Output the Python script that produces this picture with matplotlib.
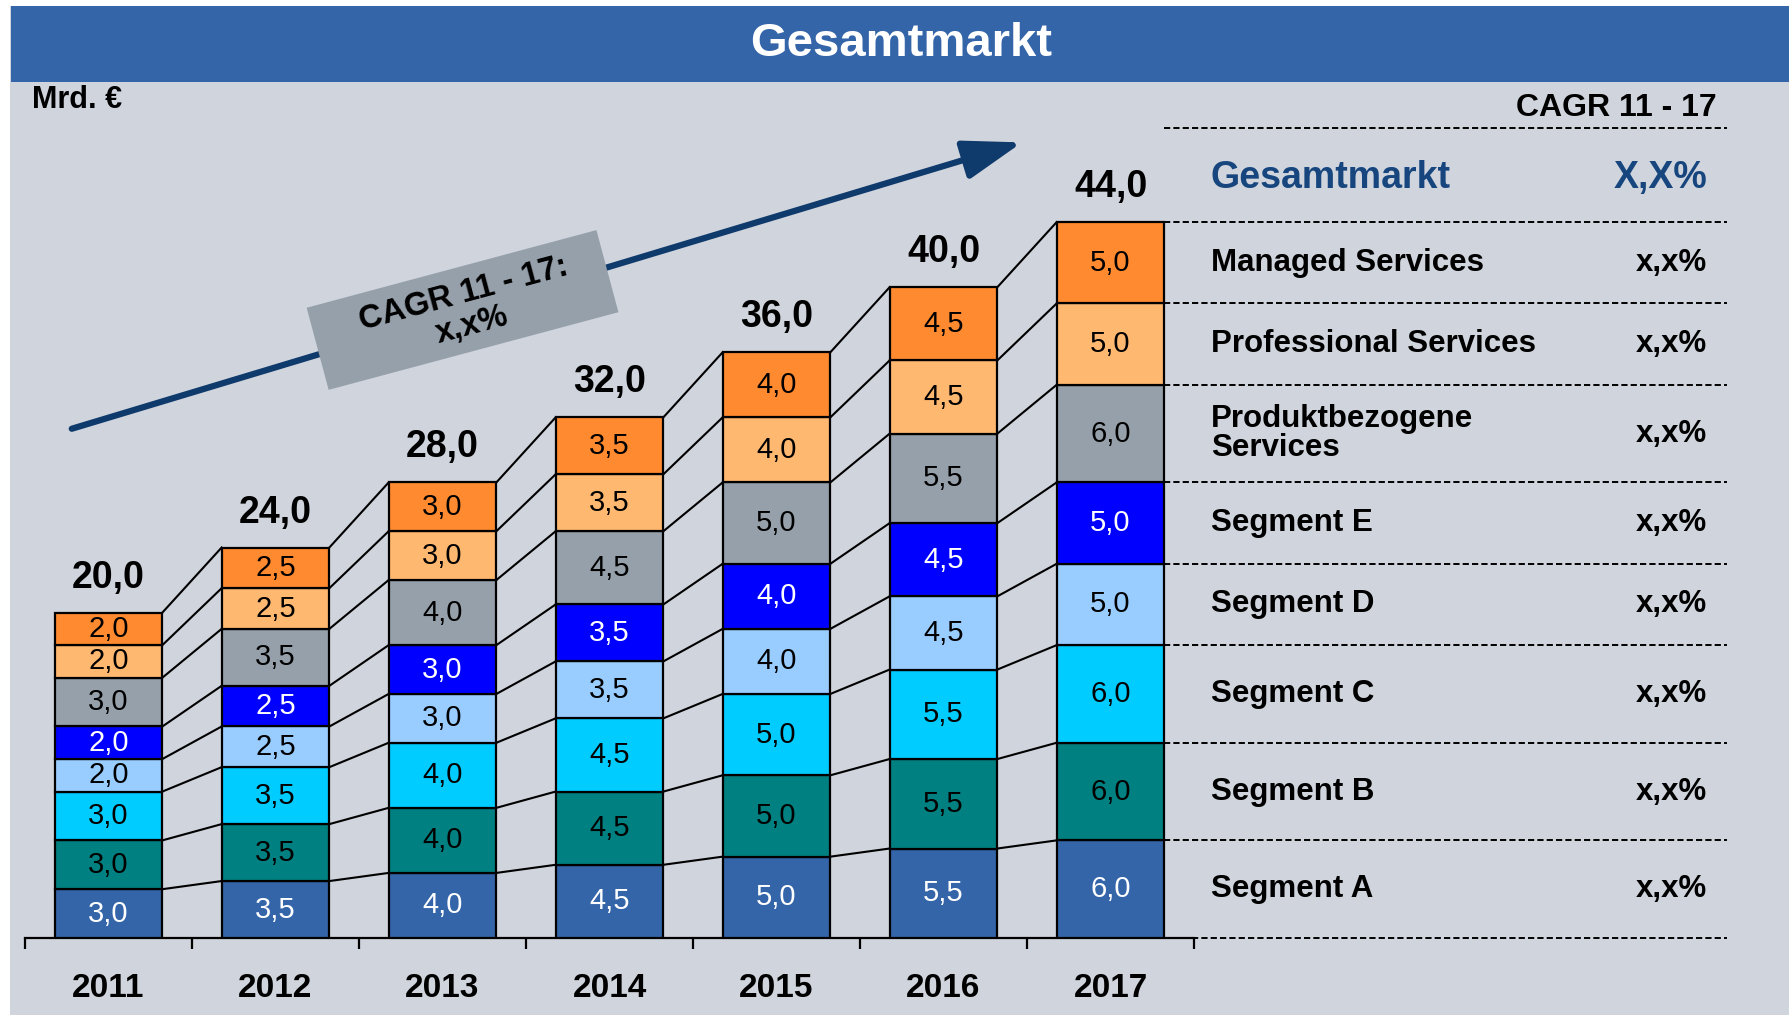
import numpy as np
import matplotlib.pyplot as plt
from matplotlib.patches import Rectangle
from matplotlib.transforms import Affine2D

plt.rcParams['font.family'] = ['Liberation Sans', 'DejaVu Sans']

# Data
# -----------------------------
years = ["2011", "2012", "2013", "2014", "2015", "2016", "2017"]
segment_names = ["Segment A", "Segment B", "Segment C", "Segment D", "Segment E",
                 "Produktbezogene\nServices", "Professional Services", "Managed Services"]
seg_a = [3.0, 3.5, 4.0, 4.5, 5.0, 5.5, 6.0]
seg_b = [3.0, 3.5, 4.0, 4.5, 5.0, 5.5, 6.0]
seg_c = [3.0, 3.5, 4.0, 4.5, 5.0, 5.5, 6.0]
seg_d = [2.0, 2.5, 3.0, 3.5, 4.0, 4.5, 5.0]
seg_e = [2.0, 2.5, 3.0, 3.5, 4.0, 4.5, 5.0]
produkt = [3.0, 3.5, 4.0, 4.5, 5.0, 5.5, 6.0]
professional = [2.0, 2.5, 3.0, 3.5, 4.0, 4.5, 5.0]
managed = [2.0, 2.5, 3.0, 3.5, 4.0, 4.5, 5.0]
cagr_segments = ["x,x%", "x,x%", "x,x%", "x,x%", "x,x%", "x,x%", "x,x%", "x,x%"]
cagr_total = "X,X%"

colors = ["#3465A9", "#008080", "#00CCFF", "#99CCFF", "#0000FF",
          "#96A0AA", "#FFB870", "#FF8A2F"]
text_colors = ["white", "black", "black", "black", "white", "black", "black", "black"]

bg = "#D0D4DC"
band = "#3465A9"
navy = "#0E3A6C"
panel_blue = "#17467F"


def fmt(v):
    return f"{v:.1f}".replace(".", ",")


# Figure layout (pixels)
# -----------------------------
W, H = 1789, 1015
PX_X = 167.0     # pixels per category step
PX_Y = 16.27     # pixels per Mrd. €
left, bottom = 25, 77

fig = plt.figure(figsize=(W / 100, H / 100), dpi=100)
fig.patch.set_facecolor("white")
fig.add_artist(Rectangle((10 / W, 0), 1, 1 - 6 / H, transform=fig.transFigure,
                         facecolor=bg, edgecolor="none", zorder=0))
fig.add_artist(Rectangle((11 / W, 1 - 82 / H), 1, 76 / H, transform=fig.transFigure,
                         facecolor=band, edgecolor="none", zorder=1))
fig.text(901 / W, 1 - 44 / H, "Gesamtmarkt", color="white", fontsize=34,
         fontweight="bold", ha="center", va="center")
fig.text(32 / W, 1 - 100 / H, "Mrd. €", fontsize=22, fontweight="bold",
         ha="left", va="center")

ax = fig.add_axes([left / W, bottom / H, (W - left) / W, (H - bottom - 43) / H])
ax.patch.set_visible(False)
ax.set_xlim(-0.5, -0.5 + (W - left) / PX_X)
ax.set_ylim(0, (H - bottom - 43) / PX_Y)

# Stacked bars
# -----------------------------
values = np.array([seg_a, seg_b, seg_c, seg_d, seg_e, produkt, professional, managed])
tops = np.cumsum(values, axis=0)
bottoms = tops - values
totals = tops[-1]
x = np.arange(len(years))
bw = 0.645

for k in range(len(values)):
    ax.bar(x, values[k], bottom=bottoms[k], width=bw, color=colors[k],
           edgecolor="black", linewidth=1.6, zorder=3)
    for i in range(len(years)):
        ax.text(x[i], bottoms[k][i] + values[k][i] / 2, fmt(values[k][i]),
                ha="center", va="center", fontsize=21, color=text_colors[k], zorder=4)

for i in range(len(years)):
    ax.annotate(fmt(totals[i]), (x[i], totals[i]), xytext=(0, 18),
                textcoords="offset points", ha="center", va="baseline",
                fontsize=27, fontweight="bold")

# connector lines between neighbouring bars
for k in range(len(values)):
    for i in range(len(years) - 1):
        ax.plot([x[i] + bw / 2, x[i + 1] - bw / 2], [tops[k][i], tops[k][i + 1]],
                color="black", linewidth=1.5, zorder=2)

# Axis
# -----------------------------
for s in ["top", "right", "left"]:
    ax.spines[s].set_visible(False)
ax.spines["bottom"].set_bounds(-0.5, len(years) - 0.5)
ax.spines["bottom"].set_linewidth(1.6)
ax.set_yticks([])
ax.set_xticks(x)
ax.set_xticklabels(years, fontsize=24, fontweight="bold")
ax.tick_params(axis="x", which="major", length=0, pad=25)
ax.set_xticks(np.arange(len(years) + 1) - 0.5, minor=True)
ax.tick_params(axis="x", which="minor", length=8, width=1.6, direction="out")

# CAGR arrow with label box
# -----------------------------
a0 = (-0.22, 31.3)
a1 = (5.47, 48.9)
ax.annotate("", xy=a1, xytext=a0,
            arrowprops=dict(arrowstyle="-|>,head_length=0.9,head_width=0.3",
                            lw=4.5, color=navy, mutation_scale=40,
                            shrinkA=0, shrinkB=0), zorder=1)
box_c = (2.12, 38.6)
cx, cy = ax.transData.transform(box_c)
box_ang = 15.0
ax.add_patch(Rectangle((cx - 150, cy - 42.5), 300, 85,
                       transform=Affine2D().rotate_deg_around(cx, cy, box_ang),
                       facecolor="#96A0AA", edgecolor="none", zorder=2))
ax.text(box_c[0] + 0.03, box_c[1], "CAGR 11 - 17:\nx,x%", rotation=box_ang,
        rotation_mode="anchor", ha="center", va="center", multialignment="center",
        fontsize=23.5, fontweight="bold", linespacing=1.05, zorder=5)

# CAGR table on the right
# -----------------------------
x_line0 = x[-1] + bw / 2
x_line1 = 9.69
x_name = 6.6
x_val = 9.575
y_head = 49.8
last = np.concatenate([[0], tops[:, -1]])
for yv in list(last) + [y_head]:
    ax.plot([x_line0, x_line1], [yv, yv], color="black", linewidth=1.4,
            linestyle=(0, (3.2, 1.6)), clip_on=False, zorder=2)

ax.text(9.63, 51.0, "CAGR 11 - 17", ha="right", va="center", fontsize=23,
        fontweight="bold")
ax.text(x_name, (y_head + totals[-1]) / 2 - 0.2, "Gesamtmarkt", ha="left", va="center",
        fontsize=27, fontweight="bold", color=panel_blue)
ax.text(x_val, (y_head + totals[-1]) / 2 - 0.2, cagr_total, ha="right", va="center",
        fontsize=27, fontweight="bold", color=panel_blue)
for k in range(len(values)):
    ym = bottoms[k][-1] + values[k][-1] / 2
    ax.text(x_name, ym, segment_names[k], ha="left", va="center", fontsize=22.5,
            fontweight="bold", linespacing=0.95)
    ax.text(x_val, ym, cagr_segments[k], ha="right", va="center", fontsize=22.5,
            fontweight="bold")

fig.savefig("out.png", dpi=100)
